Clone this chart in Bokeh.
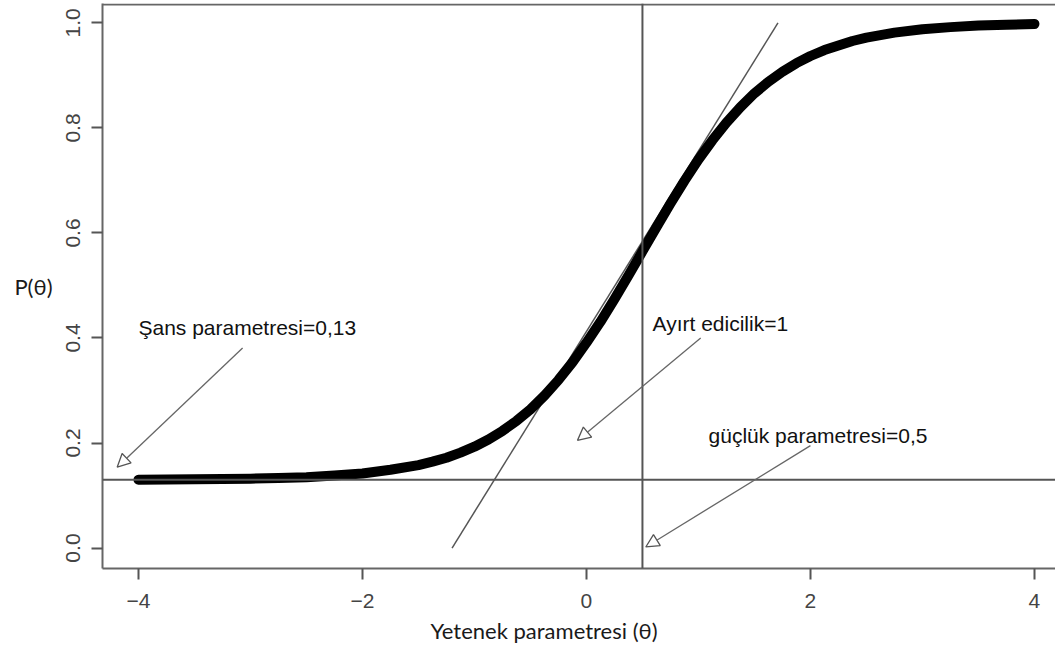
from bokeh.plotting import figure
from bokeh.models import Range1d, Span, Label, Arrow, NormalHead, FixedTicker, Title
from bokeh.embed import file_html
from bokeh.resources import INLINE

# ICC curve (3PL item: c=0.13, b=0.5, a=1)
theta = [-4.0, -3.5, -3.25, -3.0, -2.75, -2.5, -2.25, -2.0, -1.75, -1.5, -1.375, -1.25, -1.125,
         -1.0, -0.875, -0.75, -0.625, -0.5, -0.375, -0.25, -0.125, 0.0, 0.125, 0.25, 0.375,
         0.5, 0.625, 0.75, 0.875, 1.0, 1.125, 1.25, 1.375, 1.5, 1.625, 1.75, 1.875, 2.0,
         2.125, 2.25, 2.375, 2.5, 2.75, 3.0, 3.25, 3.5, 3.75, 4.0]
prob = [0.130, 0.131, 0.1315, 0.132, 0.1335, 0.135, 0.138, 0.142, 0.149, 0.158, 0.1645, 0.172, 0.1817,
        0.193, 0.2066, 0.223, 0.242, 0.264, 0.2903, 0.320, 0.3534, 0.391, 0.4308, 0.474, 0.519,
        0.565, 0.611, 0.656, 0.6992, 0.740, 0.7766, 0.810, 0.8397, 0.866, 0.888, 0.907, 0.9234, 0.937,
        0.9483, 0.957, 0.9656, 0.972, 0.9815, 0.988, 0.992, 0.995, 0.9965, 0.998]

guess_c = 0.13          # horizontal line
difficulty_b = 0.5      # vertical line
tangent_x = [-1.2, 1.71]
tangent_y = [0.0, 1.0]

x_ticks = [-4, -2, 0, 2, 4]
y_ticks = [0.0, 0.2, 0.4, 0.6, 0.8, 1.0]

ann_texts = ["Şans parametresi=0,13", "Ayırt edicilik=1", "güçlük parametresi=0,5"]
ann_text_x = [-4.0, 0.59, 1.09]
ann_text_y = [0.42, 0.428, 0.214]
arrow_x0 = [-3.07, 1.02, 2.0]
arrow_y0 = [0.381, 0.400, 0.195]
arrow_x1 = [-4.19, -0.08, 0.53]
arrow_y1 = [0.154, 0.205, 0.002]

p = figure(width=1055, height=652, output_backend="svg", toolbar_location=None,
           x_range=Range1d(-4.321, 4.188), y_range=Range1d(-0.039, 1.037),
           min_border_left=102, min_border_right=0, min_border_top=3, min_border_bottom=84)
p.grid.visible = False
p.background_fill_color = "white"
p.border_fill_color = "white"
p.outline_line_color = None

for ax in (p.xaxis[0], p.yaxis[0]):
    ax.axis_line_color = "#666666"
    ax.axis_line_width = 2
    ax.major_tick_in = 0
    ax.major_tick_out = 11
    ax.major_tick_line_color = "#555555"
    ax.major_tick_line_width = 2
    ax.minor_tick_line_color = None
    ax.major_label_text_font = "Liberation Sans"
    ax.major_label_text_color = "#444444"

p.xaxis.ticker = FixedTicker(ticks=x_ticks)
p.yaxis.ticker = FixedTicker(ticks=y_ticks)
p.xaxis.major_label_text_font_size = "21px"
p.yaxis.major_label_text_font_size = "21px"
p.xaxis.major_label_standoff = 14
p.yaxis.major_label_standoff = 11
p.yaxis.major_label_orientation = "vertical"
p.yaxis.major_label_overrides = {v: f"{v:.1f}" for v in y_ticks}

p.yaxis.axis_label = "P(θ)"
p.yaxis.axis_label_orientation = "horizontal"
p.yaxis.axis_label_text_font = "Lato"
p.yaxis.axis_label_text_font_size = "22px"
p.yaxis.axis_label_text_font_style = "normal"
p.yaxis.axis_label_text_color = "#1a1a1a"
p.yaxis.axis_label_standoff = 11

p.add_layout(Title(text="Yetenek parametresi (θ)", align="left", offset=328, standoff=8,
                   text_font="Lato", text_font_size="22px", text_font_style="normal",
                   text_color="#1a1a1a"), "below")

# top edge of the box
p.add_layout(Span(location=1.035, dimension="width", line_color="#666666", line_width=2))
p.add_layout(Span(location=guess_c, dimension="width", line_color="#555555", line_width=2))
p.add_layout(Span(location=difficulty_b, dimension="height", line_color="#555555", line_width=2))

p.line(tangent_x, tangent_y, line_color="#555555", line_width=1.5)
p.line(theta, prob, line_color="black", line_width=10, line_cap="round", line_join="round")

for i in range(3):
    p.add_layout(Arrow(x_start=arrow_x0[i], y_start=arrow_y0[i], x_end=arrow_x1[i], y_end=arrow_y1[i],
                       line_color="#666666", line_width=1.3,
                       end=NormalHead(size=13, fill_color="white", line_color="#555555", line_width=1.3)))
    p.add_layout(Label(x=ann_text_x[i], y=ann_text_y[i], text=ann_texts[i], text_font="Liberation Sans",
                       text_font_size="21px", text_color="#111111", text_baseline="middle", text_align="left"))

open("out.html", "w").write(file_html(p, INLINE))
